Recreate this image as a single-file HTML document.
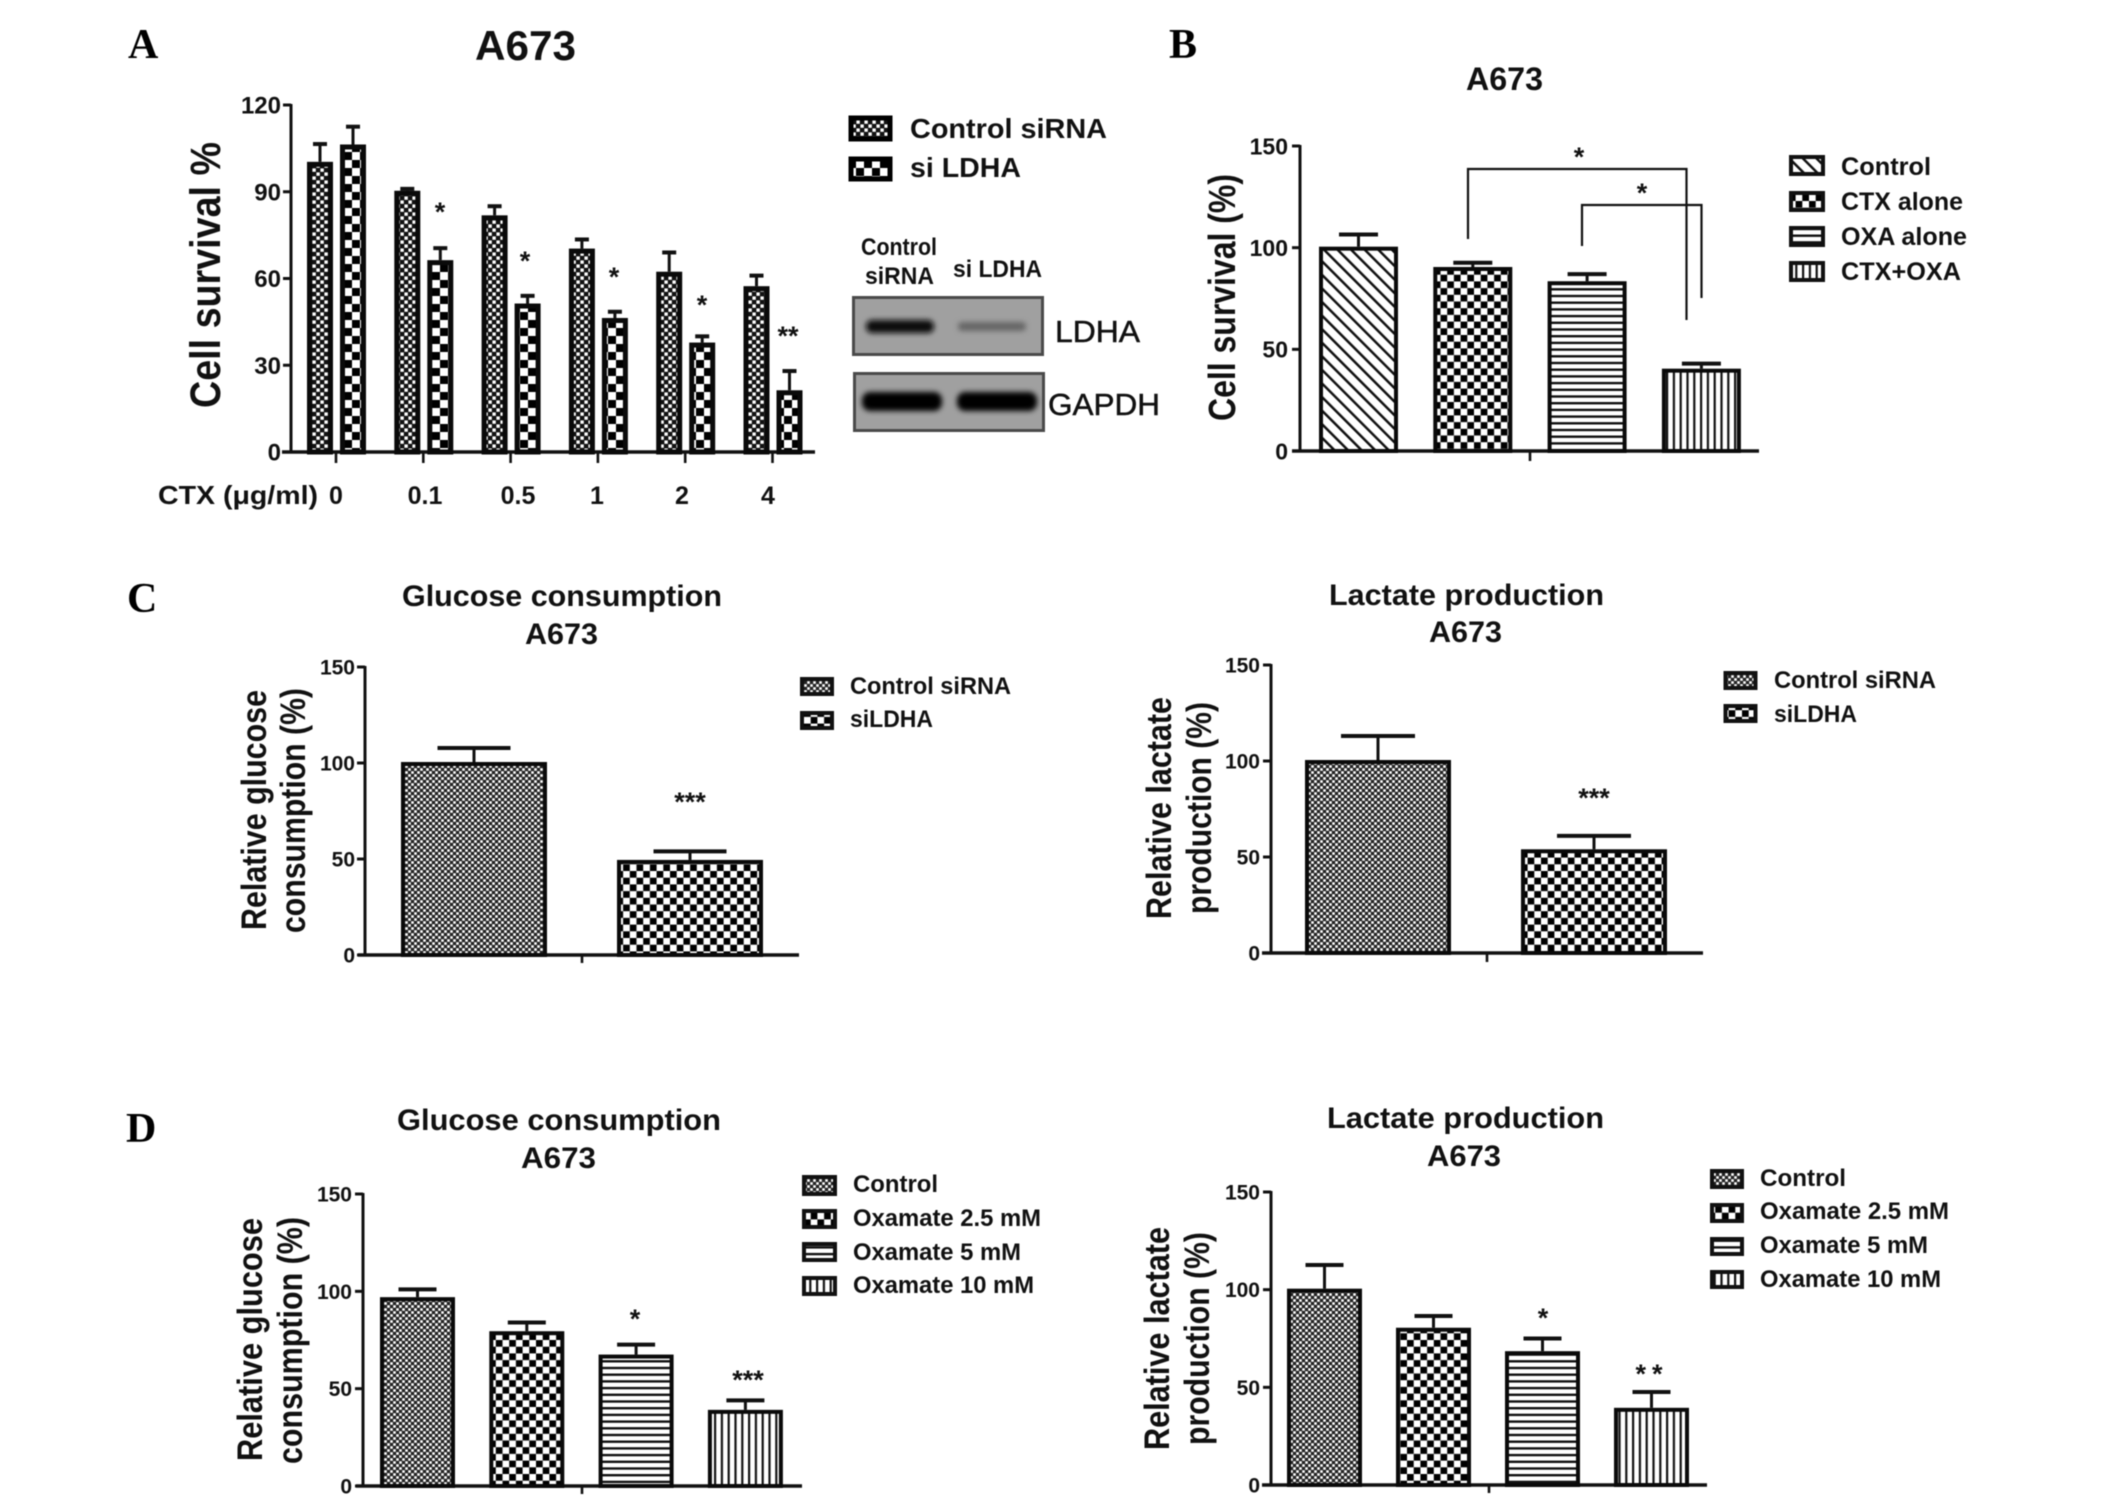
<!DOCTYPE html>
<html lang="en">
<head>
<meta charset="utf-8">
<title>A673 survival, glucose consumption and lactate production</title>
<style>
html,body{margin:0;padding:0;background:#fff;width:2126px;height:1496px;overflow:hidden}
svg{display:block;filter:blur(.45px)}
text{font-family:"Liberation Sans",Arial,sans-serif;font-weight:700;fill:#111}
.panel{font-family:"Liberation Serif","Times New Roman",serif;font-size:42px;fill:#000}
.reg{font-weight:400;fill:#111;stroke:#111;stroke-width:.5px}
</style>
</head>
<body>
<svg id="figure" xmlns="http://www.w3.org/2000/svg" width="2126" height="1496" viewBox="0 0 2126 1496">
<defs>
  <pattern id="fineA" patternUnits="userSpaceOnUse" width="8" height="8"><rect width="8" height="8" fill="#111"/><rect x="0.4" y="0.4" width="3.4" height="3.4" fill="#fff"/><rect x="4.4" y="4.4" width="3.4" height="3.4" fill="#fff"/></pattern>
  <pattern id="fine" patternUnits="userSpaceOnUse" width="6" height="6"><rect width="6" height="6" fill="#222"/><rect x="0.2" y="0.2" width="2.6" height="2.6" fill="#fff"/><rect x="3.2" y="3.2" width="2.6" height="2.6" fill="#fff"/></pattern>
  <pattern id="coarseA" patternUnits="userSpaceOnUse" width="16" height="16"><rect width="16" height="16" fill="#fff"/><rect x="0" y="0" width="8" height="8" fill="#000"/><rect x="8" y="8" width="8" height="8" fill="#000"/></pattern>
  <pattern id="coarse" patternUnits="userSpaceOnUse" width="13.4" height="13.4"><rect width="13.4" height="13.4" fill="#fff"/><rect x="0" y="0" width="6.7" height="6.7" fill="#000"/><rect x="6.7" y="6.7" width="6.7" height="6.7" fill="#000"/></pattern>
  <pattern id="hlines" patternUnits="userSpaceOnUse" width="10" height="6.7"><rect width="10" height="6.7" fill="#fff"/><rect y="0" width="10" height="2.4" fill="#111"/></pattern>
  <pattern id="vlines" patternUnits="userSpaceOnUse" width="6.8" height="10"><rect width="6.8" height="10" fill="#fff"/><rect x="0" width="2.2" height="10" fill="#111"/></pattern>
  <pattern id="diag" patternUnits="userSpaceOnUse" width="9.6" height="9.6" patternTransform="rotate(-45)"><rect width="9.6" height="9.6" fill="#fff"/><rect x="0" width="2.5" height="9.6" fill="#111"/></pattern>
  <filter id="bandBlur" x="-20%" y="-100%" width="140%" height="300%"><feGaussianBlur stdDeviation="2.6"/></filter>
</defs>
<rect width="2126" height="1496" fill="#fff"/>

<!-- Panel letters -->
<text class="panel" x="128" y="58">A</text>
<text class="panel" x="1169" y="58">B</text>
<text class="panel" x="127" y="612">C</text>
<text class="panel" x="126" y="1142">D</text>

<!-- Panel A text -->
<text x="475" y="60" font-size="42" textLength="101" lengthAdjust="spacingAndGlyphs">A673</text>
<text transform="translate(220,408) rotate(-90)" font-size="43" textLength="266" lengthAdjust="spacingAndGlyphs">Cell survival %</text>
<text x="158" y="504" font-size="26" textLength="160" lengthAdjust="spacingAndGlyphs">CTX (μg/ml)</text>
<g font-size="25" text-anchor="middle">
  <text x="336" y="504" text-anchor="middle">0</text>
  <text x="425" y="504" text-anchor="middle">0.1</text>
  <text x="518" y="504" text-anchor="middle">0.5</text>
  <text x="597" y="504" text-anchor="middle">1</text>
  <text x="682" y="504" text-anchor="middle">2</text>
  <text x="768" y="504" text-anchor="middle">4</text>
</g>
<g font-size="27" text-anchor="middle">
  <text x="440" y="221" text-anchor="middle">*</text>
  <text x="525" y="270" text-anchor="middle">*</text>
  <text x="614" y="286" text-anchor="middle">*</text>
  <text x="702" y="314" text-anchor="middle">*</text>
  <text x="788" y="345" text-anchor="middle">**</text>
</g>
<g>
  <rect x="851" y="118" width="39" height="21" fill="url(#fineA)" stroke="#000" stroke-width="5"/>
  <text x="910" y="138" font-size="28" textLength="197" lengthAdjust="spacingAndGlyphs">Control siRNA</text>
  <rect x="851" y="159" width="39" height="20" fill="url(#coarseA)" stroke="#000" stroke-width="5"/>
  <text x="910" y="177" font-size="28" textLength="111" lengthAdjust="spacingAndGlyphs">si LDHA</text>
</g>

<!-- Western blot -->
<g>
  <text x="861" y="255" font-size="24" textLength="76" lengthAdjust="spacingAndGlyphs">Control</text>
  <text x="865" y="284" font-size="24" textLength="69" lengthAdjust="spacingAndGlyphs">siRNA</text>
  <text x="953" y="277" font-size="24" textLength="89" lengthAdjust="spacingAndGlyphs">si LDHA</text>
  <rect x="853.5" y="297.5" width="189" height="57" fill="#a0a0a0" stroke="#4a4a4a" stroke-width="3"/>
  <rect x="866" y="320" width="68" height="13" rx="6" fill="#0a0a0a" filter="url(#bandBlur)"/>
  <rect x="958" y="322" width="68" height="9" rx="4" fill="#666" filter="url(#bandBlur)"/>
  <text class="reg" x="1055" y="342" font-size="31" textLength="85" lengthAdjust="spacingAndGlyphs">LDHA</text>
  <rect x="854.5" y="373.5" width="189" height="57" fill="#a0a0a0" stroke="#4a4a4a" stroke-width="3"/>
  <rect x="862" y="392" width="80" height="19" rx="8" fill="#050505" filter="url(#bandBlur)"/>
  <rect x="957" y="392" width="80" height="19" rx="8" fill="#050505" filter="url(#bandBlur)"/>
  <text class="reg" x="1048" y="415" font-size="31" textLength="112" lengthAdjust="spacingAndGlyphs">GAPDH</text>
</g>

<!-- Panel B text -->
<text x="1466" y="90" font-size="32" textLength="77" lengthAdjust="spacingAndGlyphs">A673</text>
<text transform="translate(1235,421) rotate(-90)" font-size="38" textLength="247" lengthAdjust="spacingAndGlyphs">Cell survival (%)</text>
<g fill="none" stroke="#111" stroke-width="2.2">
  <polyline points="1468,239 1468,169 1686.5,169 1686.5,320"/>
  <polyline points="1582,246 1582,205 1701.5,205 1701.5,298"/>
</g>
<text x="1579" y="166" font-size="27" text-anchor="middle">*</text>
<text x="1642" y="202" font-size="27" text-anchor="middle">*</text>
<g>
  <rect x="1791" y="157" width="32" height="17" fill="url(#diag)" stroke="#111" stroke-width="4"/>
  <text x="1841" y="175" font-size="25" textLength="90" lengthAdjust="spacingAndGlyphs">Control</text>
  <rect x="1791" y="193" width="32" height="17" fill="url(#coarse)" stroke="#111" stroke-width="4"/>
  <text x="1841" y="210" font-size="25" textLength="122" lengthAdjust="spacingAndGlyphs">CTX alone</text>
  <rect x="1791" y="228" width="32" height="17" fill="url(#hlines)" stroke="#111" stroke-width="4"/>
  <text x="1841" y="245" font-size="25" textLength="126" lengthAdjust="spacingAndGlyphs">OXA alone</text>
  <rect x="1791" y="263" width="32" height="17" fill="url(#vlines)" stroke="#111" stroke-width="4"/>
  <text x="1841" y="280" font-size="25" textLength="120" lengthAdjust="spacingAndGlyphs">CTX+OXA</text>
</g>

<!-- Panel C left text -->
<text x="402" y="606" font-size="30" textLength="320" lengthAdjust="spacingAndGlyphs">Glucose consumption</text>
<text x="525" y="644" font-size="30" textLength="73" lengthAdjust="spacingAndGlyphs">A673</text>
<text transform="translate(266,930) rotate(-90)" font-size="35" textLength="240" lengthAdjust="spacingAndGlyphs">Relative glucose</text>
<text transform="translate(305,933) rotate(-90)" font-size="35" textLength="245" lengthAdjust="spacingAndGlyphs">consumption (%)</text>
<text x="690" y="811" font-size="27" text-anchor="middle">***</text>
<g>
  <rect x="802" y="679" width="30" height="15" fill="url(#fine)" stroke="#111" stroke-width="4"/>
  <text x="850" y="694" font-size="24" textLength="161" lengthAdjust="spacingAndGlyphs">Control siRNA</text>
  <rect x="802" y="713" width="30" height="15" fill="url(#coarse)" stroke="#111" stroke-width="4"/>
  <text x="850" y="727" font-size="24" textLength="83" lengthAdjust="spacingAndGlyphs">siLDHA</text>
</g>

<!-- Panel C right text -->
<text x="1329" y="605" font-size="30" textLength="275" lengthAdjust="spacingAndGlyphs">Lactate production</text>
<text x="1429" y="642" font-size="30" textLength="73" lengthAdjust="spacingAndGlyphs">A673</text>
<text transform="translate(1171,919) rotate(-90)" font-size="35" textLength="222" lengthAdjust="spacingAndGlyphs">Relative lactate</text>
<text transform="translate(1211,914) rotate(-90)" font-size="35" textLength="212" lengthAdjust="spacingAndGlyphs">production (%)</text>
<text x="1594" y="807" font-size="27" text-anchor="middle">***</text>
<g>
  <rect x="1725.5" y="673" width="30" height="15" fill="url(#fine)" stroke="#111" stroke-width="4"/>
  <text x="1774" y="688" font-size="24" textLength="162" lengthAdjust="spacingAndGlyphs">Control siRNA</text>
  <rect x="1725.5" y="706" width="30" height="15" fill="url(#coarse)" stroke="#111" stroke-width="4"/>
  <text x="1774" y="722" font-size="24" textLength="83" lengthAdjust="spacingAndGlyphs">siLDHA</text>
</g>

<!-- Panel D left text -->
<text x="397" y="1130" font-size="30" textLength="324" lengthAdjust="spacingAndGlyphs">Glucose consumption</text>
<text x="521" y="1168" font-size="30" textLength="75" lengthAdjust="spacingAndGlyphs">A673</text>
<text transform="translate(262,1461) rotate(-90)" font-size="35" textLength="243" lengthAdjust="spacingAndGlyphs">Relative glucose</text>
<text transform="translate(302,1464) rotate(-90)" font-size="35" textLength="247" lengthAdjust="spacingAndGlyphs">consumption (%)</text>
<text x="635" y="1328" font-size="27" text-anchor="middle">*</text>
<text x="748" y="1389" font-size="27" text-anchor="middle">***</text>
<g>
  <rect x="804" y="1177" width="31" height="17" fill="url(#fine)" stroke="#111" stroke-width="4"/>
  <text x="853" y="1192" font-size="24" textLength="85" lengthAdjust="spacingAndGlyphs">Control</text>
  <rect x="804" y="1211" width="31" height="16" fill="url(#coarse)" stroke="#111" stroke-width="4"/>
  <text x="853" y="1226" font-size="24" textLength="188" lengthAdjust="spacingAndGlyphs">Oxamate 2.5 mM</text>
  <rect x="804" y="1244" width="31" height="16" fill="url(#hlines)" stroke="#111" stroke-width="4"/>
  <text x="853" y="1260" font-size="24" textLength="168" lengthAdjust="spacingAndGlyphs">Oxamate 5 mM</text>
  <rect x="804" y="1278" width="31" height="16" fill="url(#vlines)" stroke="#111" stroke-width="4"/>
  <text x="853" y="1293" font-size="24" textLength="181" lengthAdjust="spacingAndGlyphs">Oxamate 10 mM</text>
</g>

<!-- Panel D right text -->
<text x="1327" y="1128" font-size="30" textLength="277" lengthAdjust="spacingAndGlyphs">Lactate production</text>
<text x="1427" y="1166" font-size="30" textLength="74" lengthAdjust="spacingAndGlyphs">A673</text>
<text transform="translate(1169,1450) rotate(-90)" font-size="35" textLength="223" lengthAdjust="spacingAndGlyphs">Relative lactate</text>
<text transform="translate(1209,1445) rotate(-90)" font-size="35" textLength="213" lengthAdjust="spacingAndGlyphs">production (%)</text>
<text x="1543" y="1327" font-size="27" text-anchor="middle">*</text>
<text x="1652" y="1383" font-size="27" letter-spacing="6" text-anchor="middle">**</text>
<g>
  <rect x="1712" y="1171" width="30" height="16" fill="url(#fine)" stroke="#111" stroke-width="4"/>
  <text x="1760" y="1186" font-size="24" textLength="86" lengthAdjust="spacingAndGlyphs">Control</text>
  <rect x="1712" y="1205" width="30" height="16" fill="url(#coarse)" stroke="#111" stroke-width="4"/>
  <text x="1760" y="1219" font-size="24" textLength="189" lengthAdjust="spacingAndGlyphs">Oxamate 2.5 mM</text>
  <rect x="1712" y="1239" width="30" height="15" fill="url(#hlines)" stroke="#111" stroke-width="4"/>
  <text x="1760" y="1253" font-size="24" textLength="168" lengthAdjust="spacingAndGlyphs">Oxamate 5 mM</text>
  <rect x="1712" y="1272" width="30" height="15" fill="url(#vlines)" stroke="#111" stroke-width="4"/>
  <text x="1760" y="1287" font-size="24" textLength="181" lengthAdjust="spacingAndGlyphs">Oxamate 10 mM</text>
</g>
</svg>

<script>
// ---- Data ----
const ticksA = [0, 30, 60, 90, 120];
const ticksPercent = [0, 50, 100, 150];

const doses = ['0', '0.1', '0.5', '1', '2', '4'];
const survivalControl = [100, 90, 81.5, 70, 62, 57];
const survivalControlTop = [106.5, 91, 85, 73.5, 69, 61];
const survivalSiLdha = [106, 66, 51, 46, 37.5, 21];
const survivalSiLdhaTop = [112.5, 70.5, 54, 48.5, 40, 28];

const comboValues = [100, 90, 83, 40];
const comboTops = [106.5, 92.6, 87, 43];

const glucoseSiValues = [100, 49];
const glucoseSiTops = [107.8, 54];
const lactateSiValues = [100, 53.5];
const lactateSiTops = [113, 61];

const glucoseOxValues = [96.5, 79, 67, 38.6];
const glucoseOxTops = [101, 84, 72.6, 44];
const lactateOxValues = [100, 80, 68, 39];
const lactateOxTops = [112.6, 86.5, 75, 47.6];

// ---- Drawing ----
const SVG_NS = 'http://www.w3.org/2000/svg';
const root = document.getElementById('figure');

function make(parent, tag, attrs) {
  const node = document.createElementNS(SVG_NS, tag);
  for (const k in attrs) node.setAttribute(k, attrs[k]);
  parent.appendChild(node);
  return node;
}

function yScale(panel, v) {
  return panel.baseline - (v / panel.max) * panel.height;
}

function drawAxes(panel, ticks) {
  const g = make(root, 'g', {});
  
  
  const yAxis = make(g, 'line', { x1: panel.axisX, x2: panel.axisX, y1: yScale(panel, panel.max) - 1, y2: panel.baseline, stroke: '#111', 'stroke-width': 3 });
  
  
  const xAxis = make(g, 'line', { x1: panel.xStart, x2: panel.xEnd, y1: panel.baseline, y2: panel.baseline, stroke: '#111', 'stroke-width': 3.6 });
  
  
  ticks.forEach(function (t) {
    const y = yScale(panel, t);
    const tick = make(g, 'line', { x1: panel.axisX - 8, x2: panel.axisX, y1: y, y2: y, stroke: '#111', 'stroke-width': 3 });
    
    
    const label = make(g, 'text', { x: panel.axisX - panel.labelGap, y: y + panel.tickFont * 0.36, 'font-size': panel.tickFont, 'text-anchor': 'end' });
    label.textContent = String(t);
    
    
  });
}

function drawXTick(panel, x) {
  const tick = make(root, 'line', { x1: x, x2: x, y1: panel.baseline, y2: panel.baseline + panel.tickLen, stroke: '#111', 'stroke-width': 2.6 });
  
  
}

function drawBar(panel, left, value, top, fill) {
  const y = yScale(panel, value) - 1;
  const yTop = yScale(panel, top);
  const sw = panel.barStroke;
  const cx = left + panel.barWidth / 2;
  const g = make(root, 'g', {});
  
  
  const stem = make(g, 'line', { x1: cx, x2: cx, y1: y, y2: yTop, stroke: '#111', 'stroke-width': 3 });
  
  
  const cap = make(g, 'line', { x1: cx - panel.capWidth / 2, x2: cx + panel.capWidth / 2, y1: yTop, y2: yTop, stroke: '#111', 'stroke-width': 4 });
  
  
  const bar = make(g, 'rect', { x: left + sw / 2, y: y + sw / 2, width: panel.barWidth - sw, height: panel.baseline - y - sw / 2, fill: 'url(#' + fill + ')', stroke: '#0a0a0a', 'stroke-width': sw });
  
  
}

function drawSeries(panel, values, tops, fills) {
  values.forEach(function (v, i) {
    drawBar(panel, panel.first + i * panel.step, v, tops[i], fills[i % fills.length]);
  });
}

// Panel A
const panelA = { axisX: 291, baseline: 452, height: 347, max: 120, xStart: 282, xEnd: 815, labelGap: 10, tickFont: 24, barWidth: 26, barStroke: 5, capWidth: 14, first: 307, step: 87.3, tickLen: 11 };
drawAxes(panelA, ticksA);
drawSeries(panelA, survivalControl, survivalControlTop, ['fineA']);
drawSeries(Object.assign({}, panelA, { first: 340 }), survivalSiLdha, survivalSiLdhaTop, ['coarseA']);
doses.forEach(function (d, i) {
  drawXTick(panelA, panelA.first + 29 + i * panelA.step);
});

// Panel B
const panelB = { axisX: 1300, baseline: 451, height: 305, max: 150, xStart: 1292, xEnd: 1759, labelGap: 12, tickFont: 23, barWidth: 79, barStroke: 4, capWidth: 39, first: 1319, step: 114.3, tickLen: 10 };
drawAxes(panelB, ticksPercent);
drawSeries(panelB, comboValues, comboTops, ['diag', 'coarse', 'hlines', 'vlines']);
drawXTick(panelB, 1530);

// Panel C, glucose
const panelCG = { axisX: 365, baseline: 955, height: 288, max: 150, xStart: 358, xEnd: 799, labelGap: 10, tickFont: 21, barWidth: 146, barStroke: 4, capWidth: 73, first: 401, step: 216, tickLen: 8 };
drawAxes(panelCG, ticksPercent);
drawSeries(panelCG, glucoseSiValues, glucoseSiTops, ['fine', 'coarse']);
drawXTick(panelCG, 582);

// Panel C, lactate
const panelCL = { axisX: 1271, baseline: 953, height: 288, max: 150, xStart: 1262, xEnd: 1703, labelGap: 11, tickFont: 21, barWidth: 146, barStroke: 4, capWidth: 74, first: 1305, step: 216, tickLen: 9 };
drawAxes(panelCL, ticksPercent);
drawSeries(panelCL, lactateSiValues, lactateSiTops, ['fine', 'coarse']);
drawXTick(panelCL, 1487);

// Panel D, glucose
const panelDG = { axisX: 363, baseline: 1486, height: 292, max: 150, xStart: 356, xEnd: 802, labelGap: 11, tickFont: 21, barWidth: 75, barStroke: 4, capWidth: 38, first: 380, step: 109.3, tickLen: 8 };
drawAxes(panelDG, ticksPercent);
drawSeries(panelDG, glucoseOxValues, glucoseOxTops, ['fine', 'coarse', 'hlines', 'vlines']);
drawXTick(panelDG, 582);

// Panel D, lactate
const panelDL = { axisX: 1271, baseline: 1485, height: 293, max: 150, xStart: 1262, xEnd: 1707, labelGap: 11, tickFont: 21, barWidth: 75, barStroke: 4, capWidth: 38, first: 1287, step: 109, tickLen: 8 };
drawAxes(panelDL, ticksPercent);
drawSeries(panelDL, lactateOxValues, lactateOxTops, ['fine', 'coarse', 'hlines', 'vlines']);
drawXTick(panelDL, 1489);
</script>
</body>
</html>
